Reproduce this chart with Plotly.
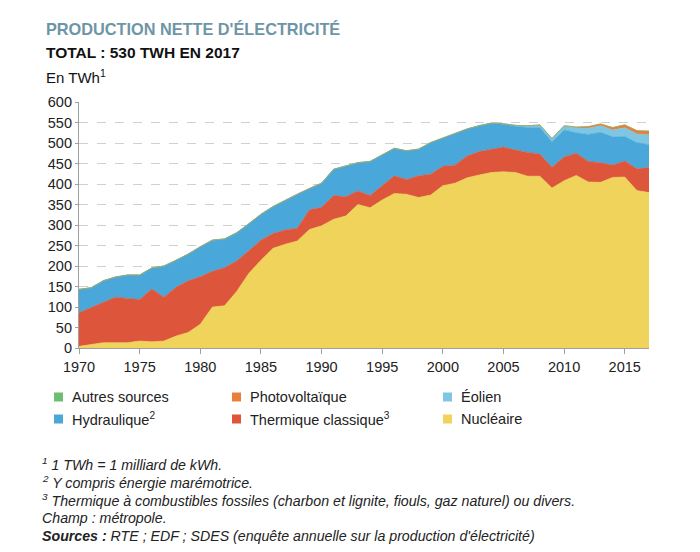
import plotly.graph_objects as go

years = list(range(1970, 2018))

nucleaire = [4, 9, 13, 13, 13, 17, 15, 17, 29, 38,
             58, 100, 103, 138, 182, 214, 243, 253, 261, 289,
             298, 314, 322, 350, 342, 361, 377, 375, 367, 373,
             396, 402, 415, 422, 428, 430, 428, 419, 419, 390,
             408, 421, 405, 404, 416, 417, 384, 379]
thermique = [82, 90, 100, 111, 108, 101, 129, 107, 119, 126,
             116, 87, 93, 74, 55, 49, 36, 35, 31, 48,
             45, 58, 47, 33, 30, 34, 43, 36, 53, 51,
             47, 44, 53, 57, 57, 60, 55, 58, 54, 51,
             58, 54, 50, 48, 30, 39, 53, 61]
hydraulique = [57, 48, 51, 49, 57, 60, 51, 76, 66, 65,
               73, 76, 70, 69, 66, 63, 66, 73, 83, 52,
               59, 64, 75, 69, 83, 76, 67, 70, 65, 77,
               69, 78, 66, 63, 63, 56, 58, 61, 65, 62,
               66, 50, 66, 74, 69, 60, 64, 56]
eolien = [0] * 30 + [0, 0, 0.3, 0.4, 0.6, 1, 2, 4, 6, 8,
                     9.5, 12, 15, 16, 17, 21, 21, 24]
photovoltaique = [0] * 39 + [0.2, 0.6, 2, 4, 4.6, 5.9, 7.3, 8.2, 9]
autres = [0] * 48

series = [
    ("Nucléaire", nucleaire, "#EFD35B"),
    ("Thermique classique<sup>3</sup>", thermique, "#DD553B"),
    ("Hydraulique<sup>2</sup>", hydraulique, "#4AA7D9"),
    ("Éolien", eolien, "#7FC6E2"),
    ("Photovoltaïque", photovoltaique, "#E8803C"),
    ("Autres sources", autres, "#6DBD72"),
]

W, H = 700, 552
L, R, T, B = 79, 51, 102, 204
PW, PH = W - L - R, H - T - B


def px(x):
    return (x - L) / PW


def py(y):
    return (H - B - y) / PH


fig = go.Figure()
for name, vals, col in series:
    fig.add_trace(go.Scatter(
        x=years, y=vals, name=name, mode="lines", stackgroup="one",
        line=dict(width=0.6, color=col), fillcolor=col, showlegend=False,
        hoverinfo="x+y+name"))

FONT = "Liberation Sans, Arial, sans-serif"
ann = []
ann.append(dict(x=px(44), y=py(29), text="<b>PRODUCTION NETTE D'ÉLECTRICITÉ</b>",
                font=dict(size=16.3, color="#6D95A6", family=FONT)))
ann.append(dict(x=px(44), y=py(53), text="<b>TOTAL : 530 TWH EN 2017</b>",
                font=dict(size=15.5, color="#111111", family=FONT)))
ann.append(dict(x=px(44), y=py(76), text="En TWh<sup>1</sup>",
                font=dict(size=15, color="#111111", family=FONT)))

legend_items = [
    ("Autres sources", "#6DBD72", 54, 397),
    ("Photovoltaïque", "#E8803C", 232, 397),
    ("Éolien", "#7FC6E2", 443, 397),
    ("Hydraulique<sup>2</sup>", "#4AA7D9", 54, 419),
    ("Thermique classique<sup>3</sup>", "#DD553B", 232, 419),
    ("Nucléaire", "#EFD35B", 443, 419),
]
shapes = []
for text, col, x0, yc in legend_items:
    shapes.append(dict(type="rect", xref="paper", yref="paper",
                       x0=px(x0), x1=px(x0 + 9), y0=py(yc + 4.5), y1=py(yc - 4.5),
                       fillcolor=col, line=dict(width=0)))
    ann.append(dict(x=px(x0 + 16), y=py(yc), text=text,
                    font=dict(size=14.5, color="#222222", family=FONT)))

notes = [
    "<i><sup>1</sup> 1 TWh = 1 milliard de kWh.</i>",
    "<i><sup>2</sup> Y compris énergie marémotrice.</i>",
    "<i><sup>3</sup> Thermique à combustibles fossiles (charbon et lignite, fiouls, gaz naturel) ou divers.</i>",
    "<i>Champ : métropole.</i>",
    "<b><i>Sources :</i></b><i> RTE ; EDF ; SDES (enquête annuelle sur la production d'électricité)</i>",
]
for i, t in enumerate(notes):
    ann.append(dict(x=px(40), y=py(464 + i * 18), text=t,
                    font=dict(size=14.2, color="#222222", family=FONT)))

for a in ann:
    a.update(xref="paper", yref="paper", xanchor="left", yanchor="middle",
             showarrow=False)

fig.update_layout(
    width=W, height=H, margin=dict(l=L, r=R, t=T, b=B),
    paper_bgcolor="white", plot_bgcolor="white",
    annotations=ann, shapes=shapes, showlegend=False,
    font=dict(family=FONT, color="#222222"),
    xaxis=dict(range=[1970, 2017], tick0=1970, dtick=5, showgrid=False,
               showline=True, linecolor="#A0A0A0", linewidth=1.2,
               ticks="outside", ticklen=5, tickcolor="#A0A0A0",
               tickfont=dict(size=14.5, color="#222222"), zeroline=False),
    yaxis=dict(range=[0, 600], dtick=50, showgrid=True, gridcolor="#D0D0D0",
               griddash="dash", gridwidth=1, showline=True, linecolor="#A0A0A0",
               linewidth=1.2, ticks="outside", ticklen=3, tickcolor="#A0A0A0",
               tickfont=dict(size=14.5, color="#222222"), zeroline=False),
)

fig.write_html("out.html")
